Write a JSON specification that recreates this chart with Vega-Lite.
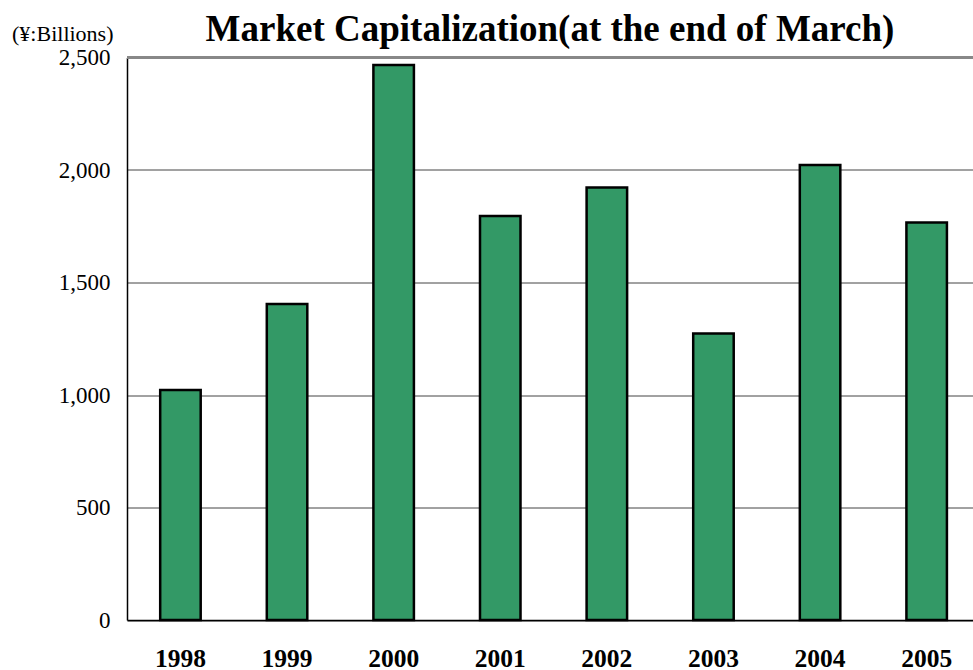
{
  "$schema": "https://vega.github.io/schema/vega-lite/v6.json",
  "autosize": "none",
  "width": 846,
  "height": 562.5,
  "padding": {"left": 127, "top": 57.5, "right": 0, "bottom": 50},
  "background": "white",
  "config": {
    "view": {"stroke": null},
    "font": "Liberation Serif"
  },
  "title": {
    "text": "Market Capitalization(at the end of March)",
    "font": "Liberation Serif",
    "fontSize": 37,
    "fontWeight": "bold",
    "color": "black",
    "anchor": "middle",
    "frame": "group",
    "offset": 9,
    "dy": 36
  },
  "data": {
    "values": [
      {"year": "1998", "value": 1022},
      {"year": "1999", "value": 1404},
      {"year": "2000", "value": 2467},
      {"year": "2001", "value": 1796},
      {"year": "2002", "value": 1922},
      {"year": "2003", "value": 1273},
      {"year": "2004", "value": 2022},
      {"year": "2005", "value": 1767}
    ]
  },
  "layer": [
    {
      "mark": {"type": "bar", "fill": "#339966", "stroke": "black", "strokeWidth": 2.5},
      "encoding": {
        "x": {
          "field": "year",
          "type": "ordinal",
          "scale": {"paddingInner": 0.62, "paddingOuter": 0.278, "align": 0.56},
          "axis": {
            "title": null,
            "labelAngle": 0,
            "labelFont": "Liberation Serif",
            "labelFontSize": 25.5,
            "labelFontWeight": "bold",
            "labelColor": "black",
            "labelBaseline": "alphabetic",
            "labelPadding": 46,
            "ticks": false,
            "domainColor": "black",
            "domainWidth": 1.5
          }
        },
        "y": {
          "field": "value",
          "type": "quantitative",
          "scale": {"domain": [0, 2500], "nice": false},
          "axis": {
            "title": "(¥:Billions)",
            "titleAngle": 0,
            "titleFont": "Liberation Serif",
            "titleFontSize": 22,
            "titleFontWeight": "normal",
            "titleColor": "black",
            "titleAlign": "right",
            "titleBaseline": "middle",
            "titleX": -14,
            "titleY": -24.5,
            "values": [0, 500, 1000, 1500, 2000, 2500],
            "format": ",d",
            "labelFont": "Liberation Serif",
            "labelFontSize": 23,
            "labelColor": "black",
            "labelPadding": 17,
            "ticks": false,
            "grid": true,
            "gridColor": "#444444",
            "gridWidth": 1,
            "gridOpacity": 1,
            "domainColor": "black",
            "domainWidth": 1.5
          }
        }
      }
    },
    {
      "mark": {"type": "rule", "color": "#888888", "strokeWidth": 2.5},
      "encoding": {"y": {"datum": 2500}}
    }
  ]
}
